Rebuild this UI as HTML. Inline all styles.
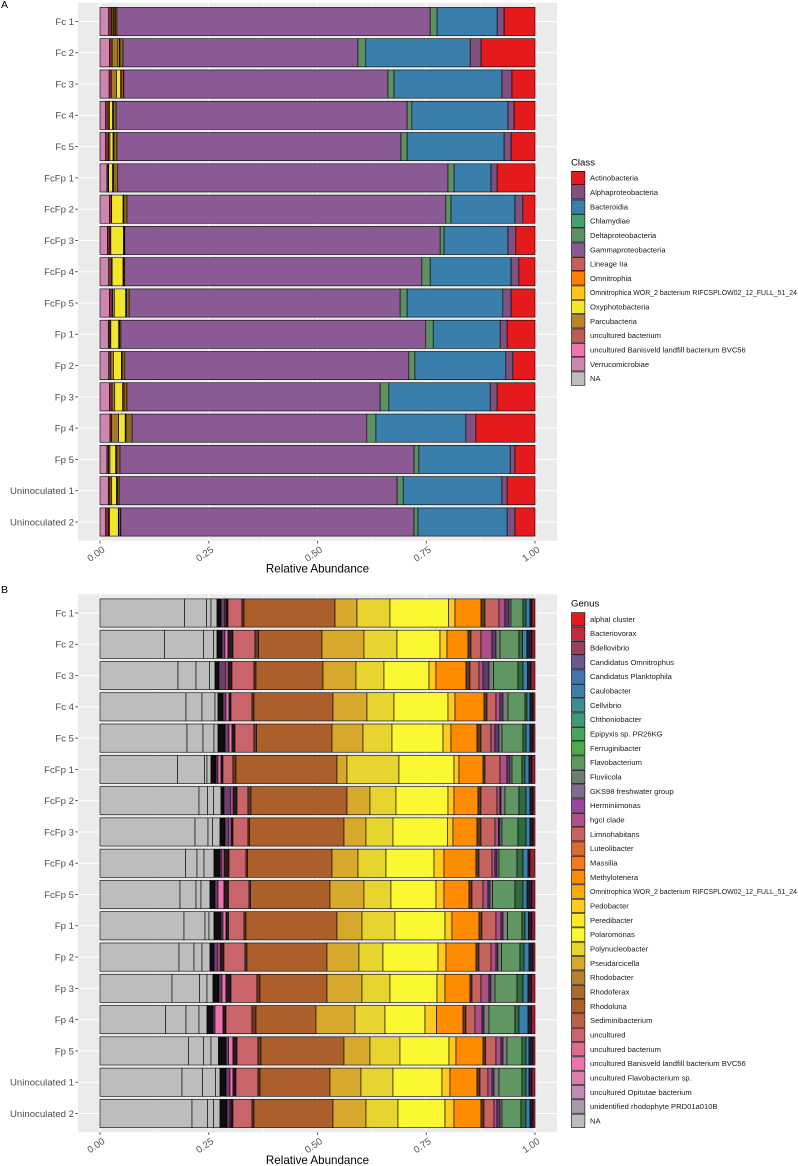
<!DOCTYPE html>
<html lang="en">
<head>
<meta charset="utf-8">
<title>Relative abundance by class and genus</title>
<style>
html,body{margin:0;padding:0;background:#fff}
svg{display:block}
text{font-family:"Liberation Sans",sans-serif}
</style>
</head>
<body>
<svg id="chart" xmlns="http://www.w3.org/2000/svg" width="798" height="1166" viewBox="0 0 798 1166">
  <text x="1" y="8" font-size="10.5" fill="#000">A</text>
  <text x="1" y="593" font-size="10.5" fill="#000">B</text>
  <g id="panelA"></g>
  <g id="panelB"></g>
</svg>
<script>
const samples = ["Fc 1","Fc 2","Fc 3","Fc 4","Fc 5","FcFp 1","FcFp 2","FcFp 3","FcFp 4","FcFp 5","Fp 1","Fp 2","Fp 3","Fp 4","Fp 5","Uninoculated 1","Uninoculated 2"];
const xTicks = [0, 0.25, 0.5, 0.75, 1];
const xTickLabels = ["0.00","0.25","0.50","0.75","1.00"];

/* Legend entries */
const classNames = ["Actinobacteria","Alphaproteobacteria","Bacteroidia","Chlamydiae","Deltaproteobacteria","Gammaproteobacteria","Lineage IIa","Omnitrophia","Omnitrophica WOR_2 bacterium RIFCSPLOW02_12_FULL_51_24","Oxyphotobacteria","Parcubacteria","uncultured bacterium","uncultured Banisveld landfill bacterium BVC56","Verrucomicrobiae","NA"];
const classColors = ["#e41a1c","#80507e","#3a7fac","#449f6f","#5d9163","#8b5a94","#c25f5f","#ff7f00","#ffc61a","#f2e62b","#bb842b","#bc5f52","#ee74ae","#cc86b0","#bdbdbd"];
const genusNames = ["alphaI cluster","Bacteriovorax","Bdellovibrio","Candidatus Omnitrophus","Candidatus Planktophila","Caulobacter","Cellvibrio","Chthoniobacter","Epipyxis sp. PR26KG","Ferruginibacter","Flavobacterium","Fluviicola","GKS98 freshwater group","Herminiimonas","hgcI clade","Limnohabitans","Luteolibacter","Massilia","Methylotenera","Omnitrophica WOR_2 bacterium RIFCSPLOW02_12_FULL_51_24","Pedobacter","Peredibacter","Polaromonas","Polynucleobacter","Pseudarcicella","Rhodobacter","Rhodoferax","Rhodoluna","Sediminibacterium","uncultured","uncultured bacterium","uncultured Banisveld landfill bacterium BVC56","uncultured Flavobacterium sp.","uncultured Opitutae bacterium","unidentified rhodophyte PRD01a010B","NA"];
const genusColors = ["#e41a1c","#c32a3f","#98405e","#6d5a8c","#4573ae","#3a80aa","#3a8f91","#3f9a72","#47a45c","#4daa4a","#5f9661","#6f7d70","#826a90","#9747a0","#ac5188","#c7635f","#d96b35","#f47a1c","#ff8c00","#ffa90f","#ffc91f","#ffe82c","#fbf833","#e8d42f","#d6a82c","#b8822c","#aa6c2b","#ac5f2a","#b96249","#c9656a","#dc6c8d","#ee72ae","#d880a9","#bf8ab4","#a89aa8","#bdbdbd"];

/* Class stack order, left to right, with fills */
const classStackFills = ["#cc86b0","#7a2f35","#a67a24","#f2e62b","#ffc61a","#ff7f00","#8d6a22","#8b5a94","#5d9163","#3a7fac","#80507e","#e41a1c"];
/* Class percentages per sample: Verrucomicrobiae, uncultured, Parcubacteria, Oxyphotobacteria, WOR_2, Omnitrophia, Parcubacteria (second OTU), Gammaproteobacteria, Deltaproteobacteria, Bacteroidia, Alphaproteobacteria, Actinobacteria */
const classFc1 = [2.0,0.7,0.3,0.2,0.2,0.2,0.3,72.0,1.6,13.8,1.6,7.1];
const classFc2 = [2.2,0.6,1.3,0.3,0.1,0.1,0.7,54.0,1.8,24.0,2.5,12.4];
const classFc3 = [2.1,0.5,1.2,0.9,0.2,0.4,0.2,60.7,1.4,24.8,2.3,5.3];
const classFc4 = [1.3,0.6,0.3,0.7,0.1,0.1,0.6,66.9,1.1,22.1,1.4,4.8];
const classFc5 = [1.3,0.7,0.3,0.7,0.1,0.1,0.7,65.3,1.4,22.3,1.6,5.5];
const classFcFp1 = [1.6,0.3,0.1,0.9,0.1,0.1,1.0,75.9,1.4,8.5,1.4,8.7];
const classFcFp2 = [2.2,0.4,0.1,2.6,0.1,0.1,0.7,73.3,1.2,14.7,1.8,2.8];
const classFcFp3 = [1.7,0.6,0.2,2.9,0.1,0.1,0.1,72.5,0.9,14.7,1.8,4.4];
const classFcFp4 = [2.0,0.6,0.2,2.5,0.1,0.1,0.2,68.3,1.9,18.6,1.8,3.7];
const classFcFp5 = [2.2,0.7,0.4,2.6,0.1,0.1,0.6,62.3,1.6,22.0,1.9,5.5];
const classFp1 = [1.9,0.4,0.2,1.8,0.1,0.1,0.3,70.1,1.7,15.4,1.6,6.4];
const classFp2 = [2.0,0.5,0.6,1.8,0.1,0.1,0.6,65.3,1.4,20.9,1.6,5.1];
const classFp3 = [2.2,0.6,0.6,1.8,0.2,0.3,0.5,58.2,2.0,23.3,1.6,8.7];
const classFp4 = [2.3,0.4,1.6,1.5,0.1,0.1,1.4,54.0,2.1,20.7,2.3,13.6];
const classFp5 = [1.6,0.4,0.3,1.3,0.1,0.2,0.7,67.6,1.1,21.0,1.1,4.6];
const classUn1 = [1.9,0.4,0.4,1.1,0.1,0.1,0.4,63.9,1.4,22.7,1.2,6.4];
const classUn2 = [1.3,0.7,0.2,2.0,0.1,0.3,0.2,67.4,0.9,20.5,1.8,4.6];
const classRows = [classFc1,classFc2,classFc3,classFc4,classFc5,classFcFp1,classFcFp2,classFcFp3,classFcFp4,classFcFp5,classFp1,classFp2,classFp3,classFp4,classFp5,classUn1,classUn2];

/* Genus stack order, left to right, with fills */
const genusStackFills = ["#bdbdbd","#bdbdbd","#bdbdbd","#bdbdbd","#0d0d0d","#6b3f6e","#ee72ae","#2a1a20","#c9656a","#6b3a28","#ac5f2a","#d6a82c","#e8d42f","#fbf833","#ffc91f","#ff8c00","#5a3a20","#c7635f","#ac5188","#5b3f6b","#7a8078","#5f9661","#2f6b3f","#3a80aa","#1e1e30","#9a1f33"];
/* Genus read counts per sample, normalised to relative abundance when drawn */
const readsFc1 = [84.5,22,4.5,6,4,4,1,2,14,2,91,22,33,58.5,6.5,26,4,14,6,4,2,12,3,4,2,3];
const readsFc2 = [64.5,39,10,3.5,5,3,3,5,22,3.5,63.5,42,33,43,7,21,3,10,11,4,4,19,3.5,4.5,5,3];
const readsFc3 = [78,18,13.5,5.5,4,7,2,4,22,2,67,33,28,45,7,30,4,9,4,6,4.5,24.5,5,4.5,3.5,4];
const readsFc4 = [86,16,13,3,5,3,3,2,21,2,79,34,27,54,7,29,3,9,4,3,5,17,2,3,3,2];
const readsFc5 = [87,16,11,4,7,4,3,3,19,2.5,75.5,31,29,51,8,26,4,10,4,4,3,21,3,4,3,2];
const readsFcFp1 = [77.5,27,2.5,4,5,2,3,2,10,3,101,10,52,55,5,24,2,15,7,3,2,10,3,4,3,3];
const readsFcFp2 = [99,8.5,6,7.5,3,7,2,4,11,3,96,23,26,52,6,24,3,16,3,1,4,14,7,4,3,2];
const readsFcFp3 = [95,13,4.5,7.5,5,4,2,2,15,1.5,94.5,22,27,54.5,5.5,24,4,14,3.5,1.5,2,16,8,4,3,2];
const readsFcFp4 = [85.5,11.5,7,10,6,2,2,5,17,1.5,84.5,26,28,48,10,32,3,13,3,2,2,18,6,5,2,5];
const readsFcFp5 = [80,16,5,9,5,3,6,4.5,20.5,1.5,79.5,34,27,45,8,25,3,11,5,2,2.5,22.5,8,4,5,3];
const readsFp1 = [84,21,4,5,7,2,3,2.5,15.5,2,91,25,33,50,7,27,3,14,5,2,4.5,14.5,3,3.5,3.5,3];
const readsFp2 = [79,15,8,8,4,4,2,4,21,2,80,32,24,55,8,30,3,12,5,2,3.5,18.5,4,5,4,2];
const readsFp3 = [72,27.5,7.5,6,6,3,4,5,26,3,67,35,28,47,8,25,2,9,8,2,4,22,6,5,3.5,3.5];
const readsFp4 = [65.5,20.5,13,8,6,2,8,3,26,4,60,39,30,40,11.5,26.5,3,9,7,2,5,26,4,9,3.5,3.5];
const readsFp5 = [88.5,15,7.5,7.5,7.5,2.5,4.5,4,21,3,83,26,30,49,7,27,2.5,10.5,5,2,4,15,4,3,4,2];
const readsUn1 = [82,20.5,13,4.5,6,4,3,3,22,2,70,31,32,49,8,27,3,8,4,2,5,23,4,3,3,3];
const readsUn2 = [92,15.5,6,6.5,7,3,1,2,19,2,79,33,32,47,9,27,3,10,3,3,2,19,5,4,3,2];
const genusRows = [readsFc1,readsFc2,readsFc3,readsFc4,readsFc5,readsFcFp1,readsFcFp2,readsFcFp3,readsFcFp4,readsFcFp5,readsFp1,readsFp2,readsFp3,readsFp4,readsFp5,readsUn1,readsUn2];

const NS = "http://www.w3.org/2000/svg";
const PANEL_LEFT = 78, PANEL_RIGHT = 557, X0 = 100, XSPAN = 435, STEP = 31.28, BAR_H = 28.2;

function make(parent, tag, props) {
  const el = document.createElementNS(NS, tag);
  for (const k in props) el.setAttribute(k, props[k]);
  parent.appendChild(el);
  return el;
}
function xScale(v) { return X0 + v * XSPAN; }
function rowScale(i, firstCenter) { return firstCenter + i * STEP; }

function drawPanel(group, firstCenter, rows, fills, legendTitle, legendNames, legendColors, legendTitleY, legendFirstY) {
  const top = firstCenter - 0.6 * STEP;
  const bottom = rowScale(samples.length - 1, firstCenter) + 0.6 * STEP;

  const bg = make(group, "rect", {x: PANEL_LEFT, y: top, width: PANEL_RIGHT - PANEL_LEFT, height: bottom - top, fill: "#ebebeb"});
  
  

  xTicks.forEach(function (t, i) {
    if (i < xTicks.length - 1) {
      const minor = make(group, "line", {x1: xScale(t + 0.125), x2: xScale(t + 0.125), y1: top, y2: bottom, stroke: "#fff", "stroke-width": 0.5});
      
      
    }
    const major = make(group, "line", {x1: xScale(t), x2: xScale(t), y1: top, y2: bottom, stroke: "#fff", "stroke-width": 1});
    
    
  });

  samples.forEach(function (name, i) {
    const cy = rowScale(i, firstCenter);
    const grid = make(group, "line", {x1: PANEL_LEFT, x2: PANEL_RIGHT, y1: cy, y2: cy, stroke: "#fff", "stroke-width": 1});
    
    

    const tick = make(group, "line", {x1: 75.3, x2: PANEL_LEFT, y1: cy, y2: cy, stroke: "#333", "stroke-width": 0.8});
    
    

    const label = make(group, "text", {x: 74, y: cy + 3.4, "text-anchor": "end", "font-size": 9.6, fill: "#4d4d4d"});
    label.textContent = name;
    
    

    const values = rows[i];
    const total = values.reduce(function (a, b) { return a + b; }, 0);
    let cum = 0;
    values.forEach(function (v, j) {
      const x1 = xScale(cum / total);
      cum += v;
      const x2 = xScale(cum / total);
      const seg = make(group, "rect", {x: x1, y: cy - BAR_H / 2, width: x2 - x1, height: BAR_H, fill: fills[j], stroke: "#000", "stroke-width": 0.6});
      
      
    });
  });

  xTicks.forEach(function (t, i) {
    const tick = make(group, "line", {x1: xScale(t), x2: xScale(t), y1: bottom, y2: bottom + 2.7, stroke: "#333", "stroke-width": 0.8});
    
    

    const lx = xScale(t) + 5.5, ly = bottom + 10.5;
    const label = make(group, "text", {x: lx, y: ly, "text-anchor": "end", "font-size": 9.6, fill: "#4d4d4d", transform: "rotate(-35 " + lx + " " + ly + ")"});
    label.textContent = xTickLabels[i];
    
    
  });

  const axisTitle = make(group, "text", {x: 317.5, y: bottom + 32, "text-anchor": "middle", "font-size": 11.6, fill: "#000"});
  axisTitle.textContent = "Relative Abundance";
  
  

  const title = make(group, "text", {x: 571, y: legendTitleY, "font-size": 9.6, fill: "#000"});
  title.textContent = legendTitle;
  
  

  legendNames.forEach(function (name, i) {
    const cy = legendFirstY + i * 14.33;
    const key = make(group, "rect", {x: 571.5, y: cy - 6.7, width: 13.4, height: 13.4, fill: legendColors[i], stroke: "#000", "stroke-width": 0.6});
    
    

    const label = make(group, "text", {x: 590, y: cy + 2.6, "font-size": 7.6, fill: "#1a1a1a"});
    label.textContent = name;
    if (name.length > 50) {
      label.setAttribute("textLength", 207);
      label.setAttribute("lengthAdjust", "spacingAndGlyphs");
    }
    
    
  });
}

drawPanel(document.getElementById("panelA"), 21.5, classRows, classStackFills, "Class", classNames, classColors, 165.5, 178);
drawPanel(document.getElementById("panelB"), 613, genusRows, genusStackFills, "Genus", genusNames, genusColors, 606.3, 619.3);
</script>
</body>
</html>
